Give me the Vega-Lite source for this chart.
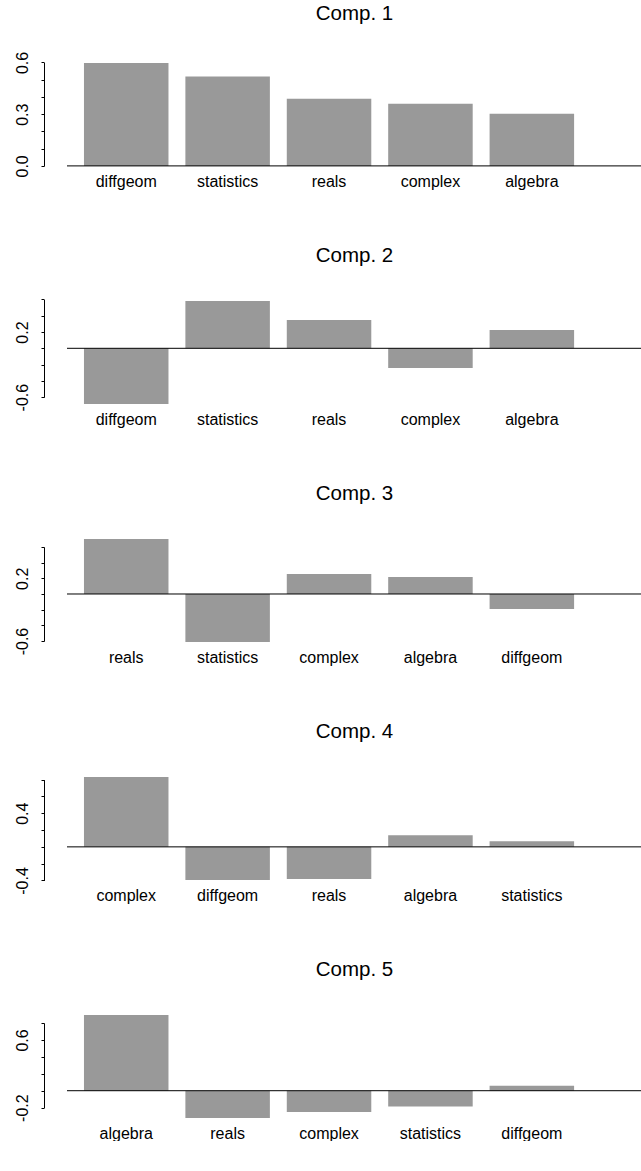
{
  "$schema": "https://vega.github.io/schema/vega-lite/v6.json",
  "background": "white",
  "padding": {"left": 14, "top": 3, "right": 0, "bottom": 0},
  "bounds": "flush",
  "spacing": 127,
  "datasets": {
    "loadings": [
      {"component": "Comp. 1", "subject": "diffgeom", "loading": 0.596},
      {"component": "Comp. 1", "subject": "statistics", "loading": 0.519},
      {"component": "Comp. 1", "subject": "reals", "loading": 0.390},
      {"component": "Comp. 1", "subject": "complex", "loading": 0.361},
      {"component": "Comp. 1", "subject": "algebra", "loading": 0.302},
      {"component": "Comp. 2", "subject": "diffgeom", "loading": -0.683},
      {"component": "Comp. 2", "subject": "statistics", "loading": 0.580},
      {"component": "Comp. 2", "subject": "reals", "loading": 0.347},
      {"component": "Comp. 2", "subject": "complex", "loading": -0.241},
      {"component": "Comp. 2", "subject": "algebra", "loading": 0.224},
      {"component": "Comp. 3", "subject": "reals", "loading": 0.700},
      {"component": "Comp. 3", "subject": "statistics", "loading": -0.611},
      {"component": "Comp. 3", "subject": "complex", "loading": 0.254},
      {"component": "Comp. 3", "subject": "algebra", "loading": 0.216},
      {"component": "Comp. 3", "subject": "diffgeom", "loading": -0.191},
      {"component": "Comp. 4", "subject": "complex", "loading": 0.830},
      {"component": "Comp. 4", "subject": "diffgeom", "loading": -0.393},
      {"component": "Comp. 4", "subject": "reals", "loading": -0.381},
      {"component": "Comp. 4", "subject": "algebra", "loading": 0.139},
      {"component": "Comp. 4", "subject": "statistics", "loading": 0.068},
      {"component": "Comp. 5", "subject": "algebra", "loading": 0.893},
      {"component": "Comp. 5", "subject": "reals", "loading": -0.321},
      {"component": "Comp. 5", "subject": "complex", "loading": -0.250},
      {"component": "Comp. 5", "subject": "statistics", "loading": -0.187},
      {"component": "Comp. 5", "subject": "diffgeom", "loading": 0.060}
    ],
    "baseline": [{"level": 0}]
  },
  "config": {
    "view": {"stroke": null},
    "font": "Liberation Sans",
    "axis": {
      "labelFont": "Liberation Sans",
      "labelFontSize": 16,
      "labelColor": "black",
      "tickColor": "black",
      "domainColor": "black",
      "grid": false,
      "labelOverlap": false,
      "labelFlush": false,
      "labelBound": false
    },
    "axisX": {"domain": false, "ticks": false, "tickSize": 0, "labelAngle": 0, "labelPadding": 3},
    "axisY": {
      "offset": 23,
      "ticks": true,
      "tickSize": 3,
      "tickWidth": 1,
      "domainWidth": 1,
      "labelAngle": 270,
      "labelAlign": "center",
      "labelBaseline": "alphabetic",
      "labelPadding": 13.6
    },
    "title": {
      "font": "Liberation Sans",
      "fontSize": 20.5,
      "fontWeight": "normal",
      "color": "black",
      "anchor": "middle",
      "baseline": "alphabetic",
      "offset": 31
    }
  },
  "vconcat": [
    {
      "title": {"text": "Comp. 1", "offset": 27},
      "width": 575,
      "height": 111,
      "resolve": {"axis": {"y": "independent"}},
      "layer": [
        {
          "data": {"name": "loadings"},
          "transform": [{"filter": "datum.component === 'Comp. 1'"}],
          "mark": {"type": "bar", "color": "#999999"},
          "encoding": {
            "x": {"field": "subject", "type": "nominal", "sort": ["diffgeom", "statistics", "reals", "complex", "algebra"],
                  "scale": {"paddingInner": 0.1667, "paddingOuter": 0.4185, "align": 0.2}, "axis": {"title": null, "labelOverlap": false}},
            "y": {"field": "loading", "type": "quantitative", "scale": {"domain": [-0.0238, 0.6198], "nice": false},
                  "axis": {"title": null, "values": [0, 0.1, 0.2, 0.3, 0.4, 0.5, 0.6], "labelOverlap": false,
                           "labelExpr": "abs(datum.value) < 0.001 ? '0.0' : abs(datum.value - 0.3) < 0.001 ? '0.3' : abs(datum.value - 0.6) < 0.001 ? '0.6' : ''",
                           "domainDash": [0, 4.1, 103.5, 1000]}},
            "y2": {"datum": 0}
          }
        },
        {
          "data": {"name": "baseline"},
          "mark": {"type": "rule", "color": "black", "strokeWidth": 1},
          "encoding": {"y": {"field": "level", "type": "quantitative", "axis": null}}
        }
      ]
    },
    {
      "title": {"text": "Comp. 2"},
      "width": 575,
      "height": 111,
      "resolve": {"axis": {"y": "independent"}},
      "layer": [
        {
          "data": {"name": "loadings"},
          "transform": [{"filter": "datum.component === 'Comp. 2'"}],
          "mark": {"type": "bar", "color": "#999999"},
          "encoding": {
            "x": {"field": "subject", "type": "nominal", "sort": ["diffgeom", "statistics", "reals", "complex", "algebra"],
                  "scale": {"paddingInner": 0.1667, "paddingOuter": 0.4185, "align": 0.2}, "axis": {"title": null, "labelOverlap": false}},
            "y": {"field": "loading", "type": "quantitative", "scale": {"domain": [-0.7335, 0.6305], "nice": false},
                  "axis": {"title": null, "values": [-0.6, -0.4, -0.2, 0, 0.2, 0.4, 0.6], "labelOverlap": false,
                           "labelExpr": "abs(datum.value + 0.6) < 0.001 ? '-0.6' : abs(datum.value - 0.2) < 0.001 ? '0.2' : ''",
                           "domainDash": [0, 10.86, 97.66, 1000]}},
            "y2": {"datum": 0}
          }
        },
        {
          "data": {"name": "baseline"},
          "mark": {"type": "rule", "color": "black", "strokeWidth": 1},
          "encoding": {"y": {"field": "level", "type": "quantitative", "axis": null}}
        }
      ]
    },
    {
      "title": {"text": "Comp. 3"},
      "width": 575,
      "height": 111,
      "resolve": {"axis": {"y": "independent"}},
      "layer": [
        {
          "data": {"name": "loadings"},
          "transform": [{"filter": "datum.component === 'Comp. 3'"}],
          "mark": {"type": "bar", "color": "#999999"},
          "encoding": {
            "x": {"field": "subject", "type": "nominal", "sort": ["reals", "statistics", "complex", "algebra", "diffgeom"],
                  "scale": {"paddingInner": 0.1667, "paddingOuter": 0.4185, "align": 0.2}, "axis": {"title": null, "labelOverlap": false}},
            "y": {"field": "loading", "type": "quantitative", "scale": {"domain": [-0.6634, 0.7524], "nice": false},
                  "axis": {"title": null, "values": [-0.6, -0.4, -0.2, 0, 0.2, 0.4, 0.6], "labelOverlap": false,
                           "labelExpr": "abs(datum.value + 0.6) < 0.001 ? '-0.6' : abs(datum.value - 0.2) < 0.001 ? '0.2' : ''",
                           "domainDash": [0, 4.97, 94.08, 1000]}},
            "y2": {"datum": 0}
          }
        },
        {
          "data": {"name": "baseline"},
          "mark": {"type": "rule", "color": "black", "strokeWidth": 1},
          "encoding": {"y": {"field": "level", "type": "quantitative", "axis": null}}
        }
      ]
    },
    {
      "title": {"text": "Comp. 4"},
      "width": 575,
      "height": 111,
      "resolve": {"axis": {"y": "independent"}},
      "layer": [
        {
          "data": {"name": "loadings"},
          "transform": [{"filter": "datum.component === 'Comp. 4'"}],
          "mark": {"type": "bar", "color": "#999999"},
          "encoding": {
            "x": {"field": "subject", "type": "nominal", "sort": ["complex", "diffgeom", "reals", "algebra", "statistics"],
                  "scale": {"paddingInner": 0.1667, "paddingOuter": 0.4185, "align": 0.2}, "axis": {"title": null, "labelOverlap": false}},
            "y": {"field": "loading", "type": "quantitative", "scale": {"domain": [-0.4419, 0.8789], "nice": false},
                  "axis": {"title": null, "values": [-0.4, -0.2, 0, 0.2, 0.4, 0.6, 0.8], "labelOverlap": false,
                           "labelExpr": "abs(datum.value + 0.4) < 0.001 ? '-0.4' : abs(datum.value - 0.4) < 0.001 ? '0.4' : ''",
                           "domainDash": [0, 3.52, 100.85, 1000]}},
            "y2": {"datum": 0}
          }
        },
        {
          "data": {"name": "baseline"},
          "mark": {"type": "rule", "color": "black", "strokeWidth": 1},
          "encoding": {"y": {"field": "level", "type": "quantitative", "axis": null}}
        }
      ]
    },
    {
      "title": {"text": "Comp. 5"},
      "width": 575,
      "height": 111,
      "resolve": {"axis": {"y": "independent"}},
      "layer": [
        {
          "data": {"name": "loadings"},
          "transform": [{"filter": "datum.component === 'Comp. 5'"}],
          "mark": {"type": "bar", "color": "#999999"},
          "encoding": {
            "x": {"field": "subject", "type": "nominal", "sort": ["algebra", "reals", "complex", "statistics", "diffgeom"],
                  "scale": {"paddingInner": 0.1667, "paddingOuter": 0.4185, "align": 0.2}, "axis": {"title": null, "labelOverlap": false}},
            "y": {"field": "loading", "type": "quantitative", "scale": {"domain": [-0.3696, 0.9416], "nice": false},
                  "axis": {"title": null, "values": [-0.2, 0, 0.2, 0.4, 0.6, 0.8], "labelOverlap": false,
                           "labelExpr": "abs(datum.value + 0.2) < 0.001 ? '-0.2' : abs(datum.value - 0.6) < 0.001 ? '0.6' : ''",
                           "domainDash": [0, 14.36, 84.66, 1000]}},
            "y2": {"datum": 0}
          }
        },
        {
          "data": {"name": "baseline"},
          "mark": {"type": "rule", "color": "black", "strokeWidth": 1},
          "encoding": {"y": {"field": "level", "type": "quantitative", "axis": null}}
        }
      ]
    }
  ]
}
